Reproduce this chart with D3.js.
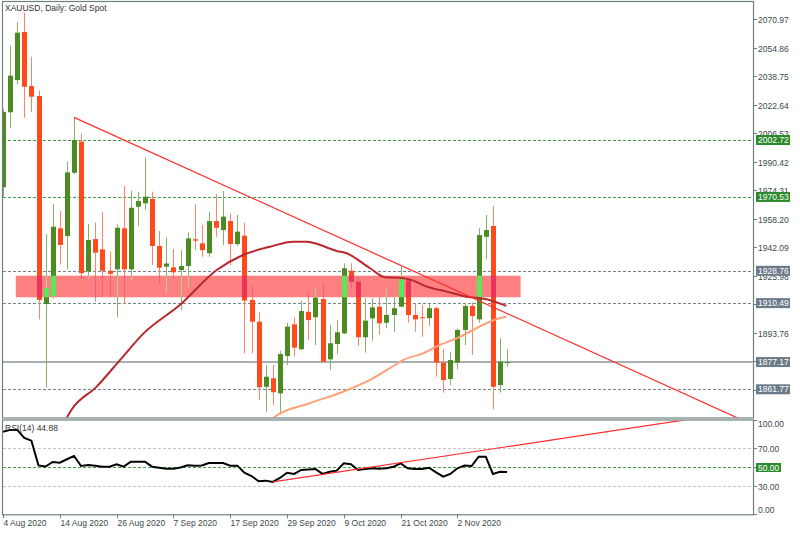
<!DOCTYPE html>
<html><head><meta charset="utf-8">
<script src="https://cdn.jsdelivr.net/npm/d3@7"></script>
<style>body{margin:0;background:#fff}svg{display:block}text{font-family:"Liberation Sans",Arial,sans-serif}</style>
</head><body><svg id="c" width="800" height="533"></svg>
<script>
// ---------- data ----------
const dates = ["2020-08-04","2020-08-05","2020-08-06","2020-08-07","2020-08-10","2020-08-11","2020-08-12","2020-08-13","2020-08-14",
"2020-08-17","2020-08-18","2020-08-19","2020-08-20","2020-08-21","2020-08-24","2020-08-25","2020-08-26","2020-08-27","2020-08-28",
"2020-08-31","2020-09-01","2020-09-02","2020-09-03","2020-09-04","2020-09-07","2020-09-08","2020-09-09","2020-09-10","2020-09-11",
"2020-09-14","2020-09-15","2020-09-16","2020-09-17","2020-09-18","2020-09-21","2020-09-22","2020-09-23","2020-09-24","2020-09-25",
"2020-09-28","2020-09-29","2020-09-30","2020-10-01","2020-10-02","2020-10-05","2020-10-06","2020-10-07","2020-10-08","2020-10-09",
"2020-10-12","2020-10-13","2020-10-14","2020-10-15","2020-10-16","2020-10-19","2020-10-20","2020-10-21","2020-10-22","2020-10-23",
"2020-10-26","2020-10-27","2020-10-28","2020-10-29","2020-10-30","2020-11-02","2020-11-03","2020-11-04","2020-11-05","2020-11-06",
"2020-11-09","2020-11-10","2020-11-11"];
const open  = [1976.0,2018.4,2036.6,2063.8,2033.2,2027.6,1910.0,1914.5,1952.8,1948.4,1984.2,2001.8,1928.3,1946.7,1940.9,1928.8,1929.6,1952.8,
1929.6,1965.0,1966.9,1969.4,1942.8,1931.1,1930.7,1929.2,1931.5,1946.6,1944.3,1938.7,1956.9,1951.8,1956.9,1943.9,1948.6,1912.3,1900.0,
1863.2,1868.0,1859.5,1880.6,1898.5,1884.4,1905.6,1902.5,1912.8,1878.7,1887.4,1893.4,1928.8,1922.6,1891.2,1901.9,1908.5,1899.4,1903.8,
1908.5,1923.2,1903.8,1902.5,1902.0,1907.6,1876.8,1867.6,1876.8,1895.3,1908.9,1901.3,1948.0,1954.1,1864.2,1877.0];
const high  = [2020.0,2056.0,2069.3,2074.7,2049.8,2030.6,1949.6,1966.5,1962.6,1990.4,2015.5,2006.5,1955.2,1956.0,1962.2,1939.6,1955.0,1976.7,
1974.0,1973.5,1992.7,1973.5,1951.3,1947.7,1941.1,1940.5,1950.5,1966.4,1954.7,1962.2,1972.2,1973.9,1961.3,1960.3,1955.9,1920.2,1905.7,
1875.5,1875.5,1883.6,1899.4,1902.5,1911.9,1916.9,1918.9,1921.7,1898.1,1900.9,1933.0,1933.0,1925.4,1913.2,1913.2,1913.8,1918.3,1914.2,
1931.1,1924.0,1910.4,1909.4,1910.4,1908.5,1884.4,1883.0,1896.3,1910.4,1910.8,1952.8,1960.3,1965.4,1890.6,1884.4];
const low   = [1970.0,2009.5,2034.2,2015.3,2018.7,1901.3,1862.7,1913.2,1932.4,1929.6,1983.5,1924.5,1924.5,1911.3,1914.1,1914.1,1902.5,1910.0,
1923.0,1954.1,1963.1,1932.0,1921.7,1916.4,1924.5,1906.6,1919.8,1940.5,1936.7,1936.7,1948.0,1943.4,1932.0,1942.8,1882.1,1882.1,1855.7,
1849.1,1852.9,1848.5,1875.5,1880.2,1884.0,1889.6,1886.8,1876.8,1872.7,1881.7,1893.0,1918.3,1886.3,1882.5,1889.2,1892.5,1896.3,1894.3,
1908.1,1899.4,1894.3,1891.5,1897.6,1868.9,1859.9,1864.2,1873.1,1886.8,1881.2,1899.4,1935.3,1850.5,1859.9,1874.5];
const close = [2018.5,2039.1,2063.4,2032.8,2027.2,1912.3,1919.0,1953.7,1943.4,1984.4,2002.7,1927.4,1946.2,1939.0,1928.8,1927.0,1953.1,1929.6,
1964.4,1968.2,1970.7,1942.8,1930.5,1932.9,1927.9,1931.5,1947.1,1945.8,1940.5,1956.9,1953.1,1959.4,1943.9,1950.9,1911.9,1900.0,1862.9,
1868.9,1860.1,1881.7,1897.2,1885.3,1906.0,1900.9,1913.6,1877.4,1887.8,1894.0,1930.2,1922.6,1891.2,1900.6,1908.1,1899.1,1903.8,1907.6,
1924.0,1903.8,1901.3,1902.0,1907.6,1876.8,1867.0,1878.3,1895.3,1908.9,1903.2,1949.0,1951.8,1863.2,1877.4,1877.17];
const rsi = [87.6,89.5,89.5,81.0,78.1,51.8,50.7,55.5,54.7,58.4,61.9,51.2,52.3,51.5,50.5,50.5,53.0,50.5,55.8,55.8,55.8,50.5,49.4,48.4,48.4,
49.7,52.0,51.6,51.8,54.4,54.4,54.4,51.6,51.6,44.1,40.6,35.0,35.7,34.3,38.5,44.1,42.8,47.0,47.5,48.1,42.8,45.2,46.3,54.1,53.1,47.0,48.1,
48.8,48.3,48.8,50.5,54.1,48.8,48.1,48.1,49.4,44.4,39.9,42.8,48.8,51.8,51.2,61.1,61.1,42.8,45.2,44.88];
const maSlowPts = [[8.6,1843],[9.7,1850.5],[13.2,1863.3],[16.5,1878.4],[19.8,1893.4],[24.9,1909.4],[30.1,1929.2],[33.8,1937.7],[37.6,1942.4],
[40.9,1945.2],[42.8,1945.2],[43.9,1944.3],[47,1940],[48.4,1938.7],[51.7,1930.2],[53.8,1925.1],[55.9,1924.9],[57.8,1923.2],[59.7,1919.8],
[62.5,1917],[65.3,1914.1],[68.1,1912.7],[70.9,1908.9]];
const maFastPts = [[37.8,1843],[38.3,1846.3],[43.2,1853.9],[47.9,1860.4],[51.7,1867.1],[55.2,1875.5],[56.4,1878.4],[59.2,1882.1],
[61.5,1886.8],[63.9,1890.6],[66.2,1895.3],[68.1,1899.1],[69.9,1901.9],[70.9,1902.8]];
const priceTrend = [[10,2015.5],[110,1833.7]];
const rsiTrend = [[38,34.3],[110,115.9]];
const zoneIdx = [1.8,72.9];
const zonePrice = [1926.0,1913.8];
const priceTicks = [2070.97,2054.86,2038.75,2022.64,2006.53,1990.42,1974.31,1958.20,1942.09,1925.98,1909.87,1893.76,1877.65,1861.54];
const greenLevels = [2002.72,1970.53];
const greyLevels = [1928.76,1910.49,1861.77];
const lastPrice = 1877.17;
const rsiTicks = [100,70,50,30,0];
const dateTickIdx = [0,8,16,24,32,40,48,56,64];
const dateTickLabels = ["4 Aug 2020","14 Aug 2020","26 Aug 2020","7 Sep 2020","17 Sep 2020","29 Sep 2020","9 Oct 2020","21 Oct 2020","2 Nov 2020"];

// ---------- layout ----------
const L = 3, R = 753, mainTop = 2, mainBot = 417.5, rsiTop = 420.5, rsiBot = 514.3;
const svg = d3.select("#c");
const x = d3.scaleLinear().domain([0,71]).range([3,507.1]);
const y = d3.scaleLinear().domain([1861.77,2002.72]).range([389.3,140]);
const yr = d3.scaleLinear().domain([0,100]).range([514.3,420]);
const fmt = d3.format(".2f");
const frameCol = "#6f8080";

const defs = svg.append("defs");
defs.append("clipPath").attr("id","mclip").append("rect").attr("x",L).attr("y",mainTop).attr("width",R-L).attr("height",mainBot-mainTop);
defs.append("clipPath").attr("id","rclip").append("rect").attr("x",L).attr("y",rsiTop).attr("width",R-L).attr("height",rsiBot-rsiTop);
defs.append("clipPath").attr("id","zclip").append("rect")
  .attr("x",x(zoneIdx[0])).attr("y",y(zonePrice[0])).attr("width",x(zoneIdx[1])-x(zoneIdx[0])).attr("height",y(zonePrice[1])-y(zonePrice[0]));

const main = svg.append("g").attr("clip-path","url(#mclip)");

// zone
main.append("rect").attr("x",x(zoneIdx[0])).attr("y",y(zonePrice[0]))
  .attr("width",x(zoneIdx[1])-x(zoneIdx[0])).attr("height",y(zonePrice[1])-y(zonePrice[0]))
  .attr("fill","#ff8080");

// levels
greenLevels.forEach(v=>main.append("line").attr("x1",L).attr("x2",R).attr("y1",Math.round(y(v))+0.5).attr("y2",Math.round(y(v))+0.5)
  .attr("stroke","#3fa33f").attr("stroke-width",1).attr("stroke-dasharray","3,2"));
greyLevels.forEach(v=>main.append("line").attr("x1",L).attr("x2",R).attr("y1",Math.round(y(v))+0.5).attr("y2",Math.round(y(v))+0.5)
  .attr("stroke","#75838f").attr("stroke-width",1).attr("stroke-dasharray","3,2"));
main.append("line").attr("x1",L).attr("x2",R).attr("y1",y(lastPrice)).attr("y2",y(lastPrice))
  .attr("stroke","#a6aeb6").attr("stroke-width",2);

// candles
const idx = d3.range(open.length);
function drawCandles(g, upW, dnW, upB, dnB){
  g.selectAll(null).data(idx).enter().append("line")
    .attr("x1",i=>Math.round(x(i))+0.5).attr("x2",i=>Math.round(x(i))+0.5)
    .attr("y1",i=>y(high[i])).attr("y2",i=>y(low[i]))
    .attr("stroke",i=>close[i]>=open[i]?upW:dnW).attr("stroke-width",1);
  g.selectAll(null).data(idx).enter().append("rect")
    .attr("x",i=>Math.round(x(i))-2).attr("width",5)
    .attr("y",i=>y(Math.max(open[i],close[i])))
    .attr("height",i=>Math.max(1,Math.abs(y(open[i])-y(close[i]))))
    .attr("fill",i=>close[i]>=open[i]?upB:dnB);
}
drawCandles(main.append("g"),"#86b066","#ff8466","#4c8a22","#ff4a1c");
drawCandles(main.append("g").attr("clip-path","url(#zclip)"),"#a8d890","#f0607a","#58e858","#ec3358");

// moving averages
const lineGen = d3.line().x(d=>x(d[0])).y(d=>y(d[1])).curve(d3.curveMonotoneX);
main.append("path").attr("d",lineGen(maSlowPts)).attr("fill","none").attr("stroke","#b8282c").attr("stroke-width",2);
main.append("path").attr("d",lineGen(maFastPts)).attr("fill","none").attr("stroke","#ffa078").attr("stroke-width",2);
// trendline
main.append("line").attr("x1",x(priceTrend[0][0])).attr("y1",y(priceTrend[0][1]))
  .attr("x2",x(priceTrend[1][0])).attr("y2",y(priceTrend[1][1])).attr("stroke","#ff2b2b").attr("stroke-width",1.2);

// ---------- RSI panel ----------
const rg = svg.append("g").attr("clip-path","url(#rclip)");
[70,30].forEach(v=>rg.append("line").attr("x1",L).attr("x2",R).attr("y1",Math.round(yr(v))+0.5).attr("y2",Math.round(yr(v))+0.5)
  .attr("stroke","#c4c4c4").attr("stroke-dasharray","3,2"));
rg.append("line").attr("x1",L).attr("x2",R).attr("y1",Math.round(yr(50))+0.5).attr("y2",Math.round(yr(50))+0.5)
  .attr("stroke","#3fa33f").attr("stroke-dasharray","3,2");
rg.append("path").datum(rsi).attr("d",d3.line().x((d,i)=>x(i)).y(d=>yr(d)))
  .attr("fill","none").attr("stroke","#000").attr("stroke-width",2);
rg.append("line").attr("x1",x(rsiTrend[0][0])).attr("y1",yr(rsiTrend[0][1]))
  .attr("x2",x(rsiTrend[1][0])).attr("y2",yr(rsiTrend[1][1])).attr("stroke","#ff2b2b").attr("stroke-width",1.2);

// ---------- frames ----------
svg.append("rect").attr("x",L-0.5).attr("y",mainTop-0.5).attr("width",R-L+1).attr("height",mainBot-mainTop+1)
  .attr("fill","none").attr("stroke",frameCol).attr("stroke-width",1.2);
svg.append("rect").attr("x",L-0.5).attr("y",rsiTop-0.5).attr("width",R-L+1).attr("height",rsiBot-rsiTop+1)
  .attr("fill","none").attr("stroke",frameCol).attr("stroke-width",1.2);

// ---------- price axis ----------
const ax = svg.append("g");
priceTicks.filter(v=>y(v)>mainTop+5 && y(v)<mainBot-3).forEach(v=>{
  const yy = Math.round(y(v))+0.5;
  ax.append("line").attr("x1",R).attr("x2",R+4).attr("y1",yy).attr("y2",yy).attr("stroke",frameCol);
  ax.append("text").attr("x",R+5).attr("y",yy+3).attr("font-size",8.5).attr("fill","#3a4a4a").text(fmt(v));
});
function labelBox(v, col, yy, w){
  ax.append("rect").attr("x",R+3).attr("y",yy-5).attr("width",w).attr("height",10).attr("fill",col);
  ax.append("text").attr("x",R+5).attr("y",yy+3).attr("font-size",8.5).attr("fill","#fff").text(fmt(v));
}
greenLevels.forEach(v=>labelBox(v,"#2c8a2c",y(v),34));
greyLevels.forEach(v=>labelBox(v,"#6c7b8a",y(v),34));
labelBox(lastPrice,"#6c7b8a",y(lastPrice),34);

// RSI axis
rsiTicks.forEach(v=>{
  const yy = Math.round(yr(v))+0.5;
  ax.append("line").attr("x1",R).attr("x2",R+4).attr("y1",yy).attr("y2",yy).attr("stroke",frameCol);
  const ty = v===100 ? yy+6 : v===0 ? yy-2 : yy+3;
  if (v===50){
    ax.append("rect").attr("x",R+3).attr("y",yy-4.5).attr("width",25).attr("height",9).attr("fill","#2c8a2c");
    ax.append("text").attr("x",R+5).attr("y",ty).attr("font-size",8.5).attr("fill","#fff").text(fmt(v));
  } else {
    ax.append("text").attr("x",R+5).attr("y",ty).attr("font-size",8.5).attr("fill","#3a4a4a").text(fmt(v));
  }
});

// date axis
dateTickIdx.forEach((i,k)=>{
  const xx = Math.round(x(i))+0.5;
  ax.append("line").attr("x1",xx).attr("x2",xx).attr("y1",rsiBot).attr("y2",rsiBot+4).attr("stroke",frameCol);
  ax.append("text").attr("x",xx).attr("y",525.5).attr("font-size",8.5).attr("fill","#3a4a4a").text(dateTickLabels[k]);
});

// titles
svg.append("text").attr("x",5).attr("y",11).attr("font-size",8.5).attr("fill","#333").text("XAUUSD, Daily:  Gold Spot");
svg.append("text").attr("x",5).attr("y",431).attr("font-size",8.5).attr("fill","#333").text("RSI(14) " + fmt(rsi[rsi.length-1]));
</script></body></html>
